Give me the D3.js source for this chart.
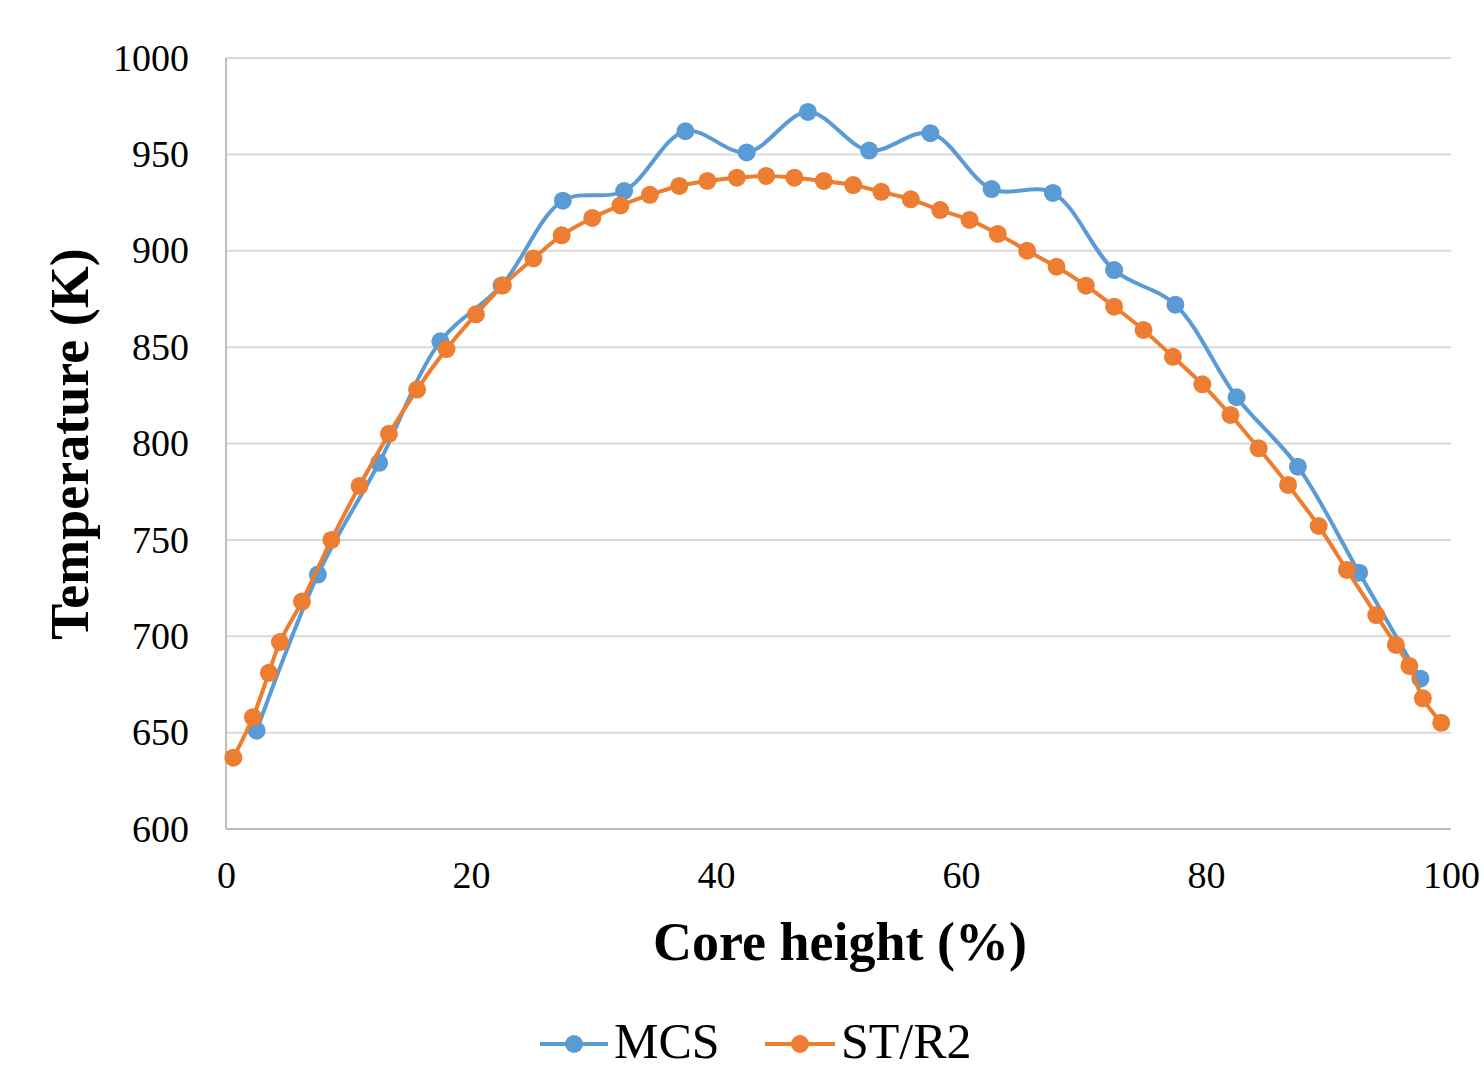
<!DOCTYPE html>
<html>
<head>
<meta charset="utf-8">
<script src="https://cdn.jsdelivr.net/npm/d3@7"></script>
<style>
  html, body { margin: 0; padding: 0; background: #fff; }
  svg { display: block; }
  text { font-family: "Liberation Serif", "Times New Roman", serif; fill: #000; }
</style>
</head>
<body>
<svg id="chart" width="1484" height="1070"></svg>
<script>
// ---- data ----
const mcsX = [2.5, 7.5, 12.5, 17.5, 22.5, 27.5, 32.5, 37.5, 42.5, 47.5, 52.5, 57.5, 62.5, 67.5, 72.5, 77.5, 82.5, 87.5, 92.5, 97.5];
const mcsY = [651, 732, 790, 853, 882, 926, 931, 962, 951, 972, 952, 961, 932, 930, 890, 872, 824, 788, 733, 678];

const strX = [0.6, 2.2, 3.5, 4.4, 6.2, 8.6, 10.9, 13.3, 15.6, 18.0, 20.4, 22.6, 25.1, 27.4, 29.9, 32.2, 34.6, 37.0, 39.3, 41.7, 44.1, 46.4, 48.8, 51.2, 53.5, 55.9, 58.3, 60.7, 63.0, 65.4, 67.8, 70.2, 72.5, 74.9, 77.3, 79.7, 82.0, 84.3, 86.7, 89.2, 91.5, 93.9, 95.5, 96.6, 97.7, 99.2];
const strY = [637, 658, 681, 697, 718, 750, 778, 805, 828, 849, 867, 882, 896, 908, 917, 923.5, 929, 933.6, 936.2, 937.9, 938.8, 937.9, 936.2, 934.1, 930.6, 926.7, 921.1, 916, 908.7, 900, 891.7, 881.9, 871, 858.9, 845, 830.7, 814.8, 797.5, 778.5, 757.2, 734.4, 711, 695.5, 684.6, 667.8, 655.1];

const xTicks = [0, 20, 40, 60, 80, 100];
const yTicks = [600, 650, 700, 750, 800, 850, 900, 950, 1000];

const seriesNames = ["MCS", "ST/R2"];
const seriesColors = ["#5B9BD5", "#ED7D31"];

// ---- layout ----
const svg = d3.select("#chart");
const pLeft = 226, pRight = 1451, pTop = 58, pBottom = 829;

const x = d3.scaleLinear().domain([0, 100]).range([pLeft, pRight]);
const y = d3.scaleLinear().domain([600, 1000]).range([pBottom, pTop]);

// gridlines
svg.append("g")
  .selectAll("line")
  .data(yTicks.filter(d => d !== 600))
  .join("line")
  .attr("x1", pLeft).attr("x2", pRight)
  .attr("y1", d => y(d)).attr("y2", d => y(d))
  .attr("stroke", "#d9d9d9").attr("stroke-width", 2);

// axes lines
svg.append("line").attr("x1", pLeft).attr("x2", pLeft).attr("y1", pTop).attr("y2", pBottom)
  .attr("stroke", "#bfbfbf").attr("stroke-width", 2);
svg.append("line").attr("x1", pLeft).attr("x2", pRight).attr("y1", pBottom).attr("y2", pBottom)
  .attr("stroke", "#bfbfbf").attr("stroke-width", 2);

// y tick labels
const yAxis = d3.axisLeft(y).tickValues(yTicks).tickFormat(d3.format("d")).tickSize(0).tickPadding(37);
const gy = svg.append("g").attr("transform", `translate(${pLeft},0)`).call(yAxis);
gy.select(".domain").remove();
gy.selectAll("text").style("font-family", "'Liberation Serif', serif").style("font-size", "38px").attr("fill", "#000");

// x tick labels
const xAxis = d3.axisBottom(x).tickValues(xTicks).tickFormat(d3.format("d")).tickSize(0).tickPadding(32);
const gx = svg.append("g").attr("transform", `translate(0,${pBottom})`).call(xAxis);
gx.select(".domain").remove();
gx.selectAll("text").style("font-family", "'Liberation Serif', serif").style("font-size", "38px").attr("fill", "#000");

// axis titles
svg.append("text")
  .attr("x", 840).attr("y", 960)
  .attr("text-anchor", "middle")
  .style("font-size", "54px").style("font-weight", "bold")
  .text("Core height (%)");

svg.append("text")
  .attr("transform", "translate(88,444) rotate(-90)")
  .attr("text-anchor", "middle")
  .style("font-size", "54px").style("font-weight", "bold")
  .text("Temperature (K)");

// series
const line = d3.line().x(d => x(d[0])).y(d => y(d[1])).curve(d3.curveCatmullRom.alpha(0.5));
const series = [
  d3.zip(mcsX, mcsY),
  d3.zip(strX, strY)
];

series.forEach((pts, i) => {
  const g = svg.append("g");
  g.append("path").datum(pts)
    .attr("d", line)
    .attr("fill", "none")
    .attr("stroke", seriesColors[i])
    .attr("stroke-width", 4)
    .attr("stroke-linejoin", "round");
  g.selectAll("circle").data(pts).join("circle")
    .attr("cx", d => x(d[0])).attr("cy", d => y(d[1]))
    .attr("r", 9)
    .attr("fill", seriesColors[i]);
});

// legend
const legendItems = [
  { x0: 540, x1: 608, tx: 614 },
  { x0: 765, x1: 835, tx: 841 }
];
legendItems.forEach((it, i) => {
  const g = svg.append("g");
  g.append("line").attr("x1", it.x0).attr("x2", it.x1).attr("y1", 1044).attr("y2", 1044)
    .attr("stroke", seriesColors[i]).attr("stroke-width", 4);
  g.append("circle").attr("cx", (it.x0 + it.x1) / 2).attr("cy", 1044).attr("r", 9)
    .attr("fill", seriesColors[i]);
  g.append("text").attr("x", it.tx).attr("y", 1058)
    .style("font-size", "50px")
    .text(seriesNames[i]);
});
</script>
</body>
</html>
